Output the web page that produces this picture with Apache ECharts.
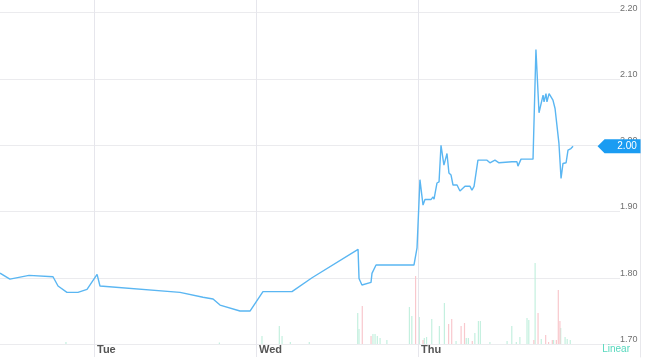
<!DOCTYPE html>
<html>
<head>
<meta charset="utf-8">
<script src="https://cdn.jsdelivr.net/npm/echarts@6/dist/echarts.min.js"></script>
<style>
html,body{margin:0;padding:0;background:#fff;}
#c{width:650px;height:364px;}
</style>
</head>
<body>
<div id="c"></div>
<script>
// Time in trading-day units (Tue = 1, Wed = 2, Thu = 3)
var times = [0.420,0.481,0.599,0.747,0.778,0.833,0.901,0.957,1.019,1.037,1.531,1.673,1.735,1.778,1.901,1.963,2.043,2.222,2.346,2.630,2.636,2.654,2.710,2.716,2.741,2.975,2.994,3.012,3.031,3.043,3.080,3.093,3.099,3.117,3.130,3.142,3.160,3.179,3.191,3.204,3.216,3.241,3.259,3.290,3.321,3.333,3.346,3.370,3.426,3.444,3.475,3.500,3.580,3.611,3.617,3.636,3.710,3.728,3.747,3.772,3.778,3.790,3.796,3.809,3.821,3.833,3.846,3.858,3.870,3.883,3.895,3.914,3.926,3.944,3.957];
var prices = [1.807,1.798,1.8036,1.8015,1.7875,1.778,1.778,1.7825,1.805,1.7875,1.778,1.7705,1.768,1.7588,1.7498,1.7498,1.779,1.779,1.800,1.8428,1.799,1.789,1.793,1.8066,1.8192,1.8192,1.845,1.948,1.9097,1.918,1.918,1.922,1.9187,1.943,1.9448,2.000,1.970,1.9876,1.958,1.955,1.940,1.940,1.931,1.938,1.938,1.932,1.938,1.9775,1.9775,1.9735,1.9775,1.9735,1.975,1.975,1.9685,1.979,1.979,2.1445,2.049,2.0756,2.0655,2.078,2.0655,2.078,2.0796,2.068,2.0555,2.054,2.0027,1.950,1.9725,1.9735,1.9926,1.995,1.9986];

var upVolTimes = [0.831,1.778,2.041,2.148,2.165,2.216,2.333,2.632,2.640,2.726,2.739,2.753,2.770,2.812,2.951,2.966,3.012,3.043,3.057,3.089,3.136,3.167,3.239,3.302,3.315,3.355,3.377,3.389,3.448,3.554,3.583,3.611,3.633,3.677,3.688,3.727,3.765,3.841,3.885,3.912,3.925,3.944];
var upVol = [2,1.5,8,18,8,2,2,31,15,10,10,8,6,4,37,28,27,6,7,25,18,41,3,6,6,11,23,23,2,3,18,2,7,26,24,81,5,4,16,7,5,4];
var downVolTimes = [2.652,2.706,2.981,3.027,3.185,3.204,3.262,3.283,3.331,3.711,3.737,3.784,3.802,3.825,3.850,3.862,3.872];
var downVol = [38,8,68,4,20,25,18,21,3,4,31,9,2,4,4,54,23];

var dayTicks = [1, 2, 3];
var dayLabels = ['Tue', 'Wed', 'Thu'];
var priceTicks = [1.7, 1.8, 1.9, 2.0, 2.1, 2.2];

var X_MIN = 0.4198, X_MAX = 4.2469;
var Y_MIN = 1.6804, Y_MAX = 2.2192;

function zip(a, b) { return a.map(function (v, i) { return [v, b[i]]; }); }
var lastTime = times[times.length - 1];
var lastPrice = prices[prices.length - 1];
var FONT = 'Liberation Sans, Arial, sans-serif';

var chart = echarts.init(document.getElementById('c'), null, {renderer: 'canvas'});
chart.setOption({
  backgroundColor: '#ffffff',
  animation: false,
  title: {
    text: 'Linear', right: 15, bottom: 5,
    textStyle: {color: '#55d8bd', fontSize: 10, fontWeight: 'normal', fontFamily: FONT}
  },
  grid: [
    {left: 0, right: 30, top: 0, bottom: 7},
    {left: 0, right: 30, top: 244, bottom: 20}
  ],
  xAxis: [
    {
      type: 'value', gridIndex: 0, min: X_MIN, max: X_MAX, minInterval: 1, maxInterval: 1,
      axisLine: {show: false}, axisTick: {show: false}, splitLine: {show: false},
      axisLabel: {
        inside: true, margin: 2, align: 'left', padding: [0, 0, 0, 3],
        showMinLabel: false, showMaxLabel: false,
        color: '#555', fontSize: 11, fontWeight: 'bold', fontFamily: FONT,
        formatter: function (v) {
          for (var i = 0; i < dayTicks.length; i++) if (Math.abs(v - dayTicks[i]) < 1e-6) return dayLabels[i];
          return '';
        }
      }
    },
    {
      type: 'value', gridIndex: 1, min: X_MIN, max: X_MAX, show: false
    }
  ],
  yAxis: [
    {
      type: 'value', gridIndex: 0, position: 'right', min: Y_MIN, max: Y_MAX, minInterval: 0.1, maxInterval: 0.1,
      axisLine: {show: false}, axisTick: {show: false},
      splitLine: {show: true, showMinLine: false, showMaxLine: false, lineStyle: {color: '#ebebee', width: 1}},
      axisLabel: {
        margin: 0, align: 'left', verticalAlign: 'bottom', lineHeight: 9,
        showMinLabel: false, showMaxLabel: false,
        color: '#707070', fontSize: 9, fontFamily: FONT,
        formatter: function (v) {
          for (var i = 0; i < priceTicks.length; i++) if (Math.abs(v - priceTicks[i]) < 1e-6) return priceTicks[i].toFixed(2);
          return '';
        }
      }
    },
    {
      type: 'value', gridIndex: 0, position: 'right', offset: 20, min: Y_MIN, max: Y_MAX,
      axisLine: {show: true, lineStyle: {color: '#e8e8ec', width: 1}},
      axisTick: {show: false}, axisLabel: {show: false}, splitLine: {show: false}
    },
    {
      type: 'value', gridIndex: 1, min: 0, max: 100, show: false, splitLine: {show: false}
    }
  ],
  series: [
    {
      type: 'bar', xAxisIndex: 1, yAxisIndex: 2, barWidth: 1.2,
      itemStyle: {color: '#c4f0df'}, data: zip(upVolTimes, upVol), silent: true
    },
    {
      type: 'bar', xAxisIndex: 1, yAxisIndex: 2, barWidth: 1.2,
      itemStyle: {color: '#f9c8cd'}, data: zip(downVolTimes, downVol), silent: true
    },
    {
      type: 'line', xAxisIndex: 0, yAxisIndex: 0, showSymbol: false, symbol: 'none', clip: false,
      lineStyle: {color: '#5ab6f2', width: 1.4}, data: zip(times, prices), z: 5,
      markLine: {
        silent: true, symbol: 'none', animation: false,
        lineStyle: {color: '#e6e6ec', width: 1, type: 'solid'},
        label: {show: false},
        data: dayTicks.map(function (d) { return {xAxis: d}; })
      },
      markPoint: {
        silent: true, animation: false,
        symbol: 'path://M0,7L7,0L43,0L43,14L7,14Z',
        symbolSize: [43, 14], symbolKeepAspect: false, symbolOffset: [46, 0],
        itemStyle: {color: '#1a9cf2'},
        label: {
          show: true, position: 'inside', offset: [8, 0], color: '#fff', fontSize: 10, fontFamily: FONT,
          formatter: function () { return lastPrice.toFixed(2); }
        },
        data: [{coord: [lastTime, lastPrice]}]
      }
    }
  ]
});
</script>
</body>
</html>
